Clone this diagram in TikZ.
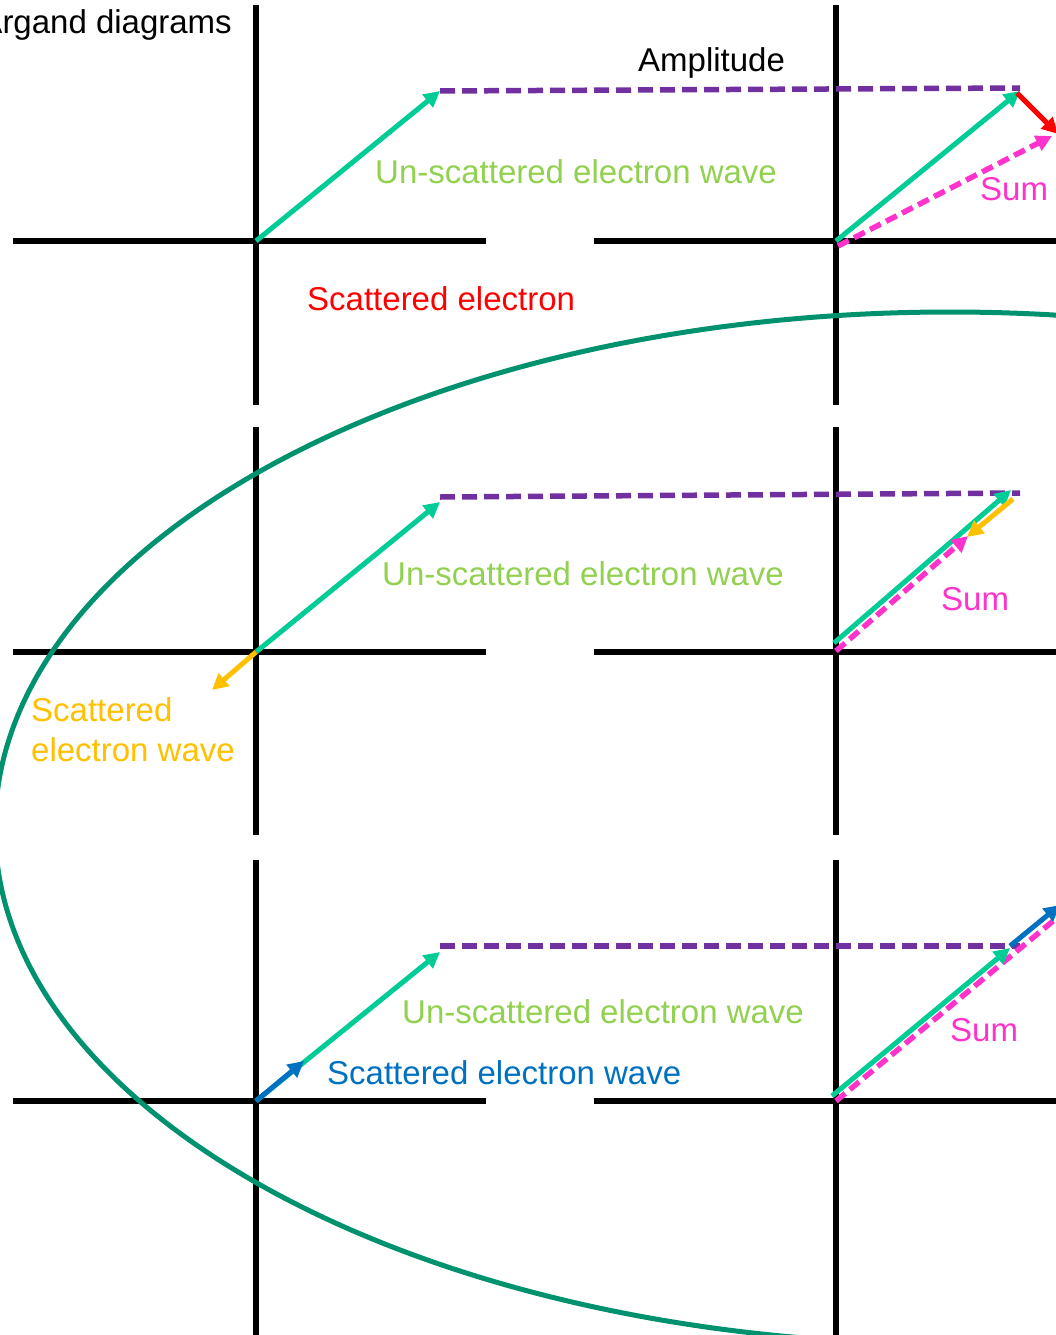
\documentclass[tikz,border=0pt]{standalone}
\usepackage{fontspec}
\setmainfont{Liberation Sans}
\usetikzlibrary{arrows.meta}
\definecolor{axisk}{RGB}{0,0,0}
\definecolor{vecgreen}{RGB}{0,204,150}
\definecolor{txtgreen}{RGB}{146,208,80}
\definecolor{amppurple}{RGB}{112,48,160}
\definecolor{sumpink}{RGB}{255,51,204}
\definecolor{scatred}{RGB}{255,0,0}
\definecolor{scatorange}{RGB}{255,192,0}
\definecolor{scatblue}{RGB}{0,112,192}
\definecolor{ellgreen}{RGB}{0,146,110}
\tikzset{
  axisline/.style={line width=5.5pt, draw=axisk},
  tipstyle/.style={-{Triangle[length=16pt,width=16pt]}},
  vecarrow/.style={tipstyle, line width=5pt, draw=vecgreen},
  redarrow/.style={tipstyle, line width=5pt, draw=scatred},
  orangearrow/.style={tipstyle, line width=5pt, draw=scatorange},
  bluearrow/.style={tipstyle, line width=5pt, draw=scatblue},
  sumarrow/.style={tipstyle, line width=5.5pt, draw=sumpink, dash pattern=on 12pt off 6pt},
  ampline/.style={line width=5.5pt, draw=amppurple, dash pattern=on 15pt off 7pt},
  lbl/.style={font=\fontsize{33}{38}\selectfont, anchor=base west, inner sep=0pt},
  ellipseline/.style={line width=5pt, draw=ellgreen}
}
\begin{document}
\begin{tikzpicture}[x=1pt,y=-1pt]
\useasboundingbox (0,0) rectangle (1056,1335);
\clip (0,0) rectangle (1056,1335);
% axes
\foreach \nm/\ya/\yb/\yc in {t/5/405/241, m/427/835/652, b/860/1335/1101}{
  \coordinate (L\nm top) at (256,\ya);
  \coordinate (L\nm bot) at (256,\yb);
  \coordinate (R\nm top) at (836,\ya);
  \coordinate (R\nm bot) at (836,\yb);
  \coordinate (L\nm left) at (13,\yc);
  \coordinate (L\nm right) at (486,\yc);
  \coordinate (R\nm left) at (594,\yc);
  \coordinate (R\nm right) at (1056,\yc);
  \draw[axisline] (L\nm top) -- (L\nm bot);
  \draw[axisline] (R\nm top) -- (R\nm bot);
  \draw[axisline] (L\nm left) -- (L\nm right);
  \draw[axisline] (R\nm left) -- (R\nm right);
}
% ellipse
\coordinate (ellc) at (950,828);
\draw[ellipseline] (ellc) ellipse [x radius=955pt, y radius=516pt];

% ---------- top panel ----------
\coordinate (t0) at (256,241);
\coordinate (t1) at (440,91);
\coordinate (t2) at (1020,88);
\coordinate (tr0) at (836,241);
\coordinate (tr1) at (1020,91);
\coordinate (tred0) at (1017,93);
\coordinate (tred1) at (1058,134);
\coordinate (ts0) at (838,246);
\coordinate (ts1) at (1052,136);
\draw[ampline] (t1) -- (t2);
\draw[vecarrow] (t0) -- (t1);
\draw[vecarrow] (tr0) -- (tr1);
\draw[sumarrow] (ts0) -- (ts1);
\draw[redarrow] (tred0) -- (tred1);
\node[lbl, anchor=base east] (title) at (232,34) {Argand diagrams};
\node[lbl] (amp) at (638,72) {Amplitude};
\node[lbl, text=txtgreen] (tun) at (375,183) {Un-scattered electron wave};
\node[lbl, text=sumpink] (tsum) at (980,200) {Sum};
\node[lbl, text=scatred] (tsc) at (307,310) {Scattered electron};

% ---------- middle panel ----------
\coordinate (m0) at (256,652);
\coordinate (m1) at (440,502);
\coordinate (ma) at (440,497);
\coordinate (m2) at (1020,493);
\coordinate (mo1) at (212,690);
\coordinate (mr0) at (834,643);
\coordinate (mr1) at (1011,490);
\coordinate (mro0) at (1013,499);
\coordinate (mro1) at (967,537);
\coordinate (ms0) at (836,651);
\coordinate (ms1) at (968,536);
\draw[ampline] (ma) -- (m2);
\draw[vecarrow] (m0) -- (m1);
\draw[orangearrow] (m0) -- (mo1);
\draw[vecarrow] (mr0) -- (mr1);
\draw[sumarrow] (ms0) -- (ms1);
\draw[orangearrow] (mro0) -- (mro1);
\node[lbl, text=txtgreen] (mun) at (382,585) {Un-scattered electron wave};
\node[lbl, text=sumpink] (msum) at (941,610) {Sum};
\node[lbl, text=scatorange] (msc1) at (31,721) {Scattered};
\node[lbl, text=scatorange] (msc2) at (31,761) {electron wave};

% ---------- bottom panel ----------
\coordinate (b0) at (256,1101);
\coordinate (b1) at (440,952);
\coordinate (ba) at (440,946);
\coordinate (b2) at (1020,946);
\coordinate (bb1) at (304,1061);
\coordinate (br0) at (832,1096);
\coordinate (br1) at (1010,948);
\coordinate (brb0) at (1010,946);
\coordinate (brb1) at (1060,905);
\coordinate (bs0) at (836,1101);
\coordinate (bs1) at (1070,907);
\draw[ampline] (ba) -- (b2);
\draw[vecarrow] (b0) -- (b1);
\draw[bluearrow] (b0) -- (bb1);
\draw[sumarrow] (bs0) -- (bs1);
\draw[vecarrow] (br0) -- (br1);
\draw[bluearrow] (brb0) -- (brb1);
\node[lbl, text=txtgreen] (bun) at (402,1023) {Un-scattered electron wave};
\node[lbl, text=scatblue] (bsc) at (327,1084) {Scattered electron wave};
\node[lbl, text=sumpink] (bsum) at (950,1041) {Sum};
\end{tikzpicture}
\end{document}
